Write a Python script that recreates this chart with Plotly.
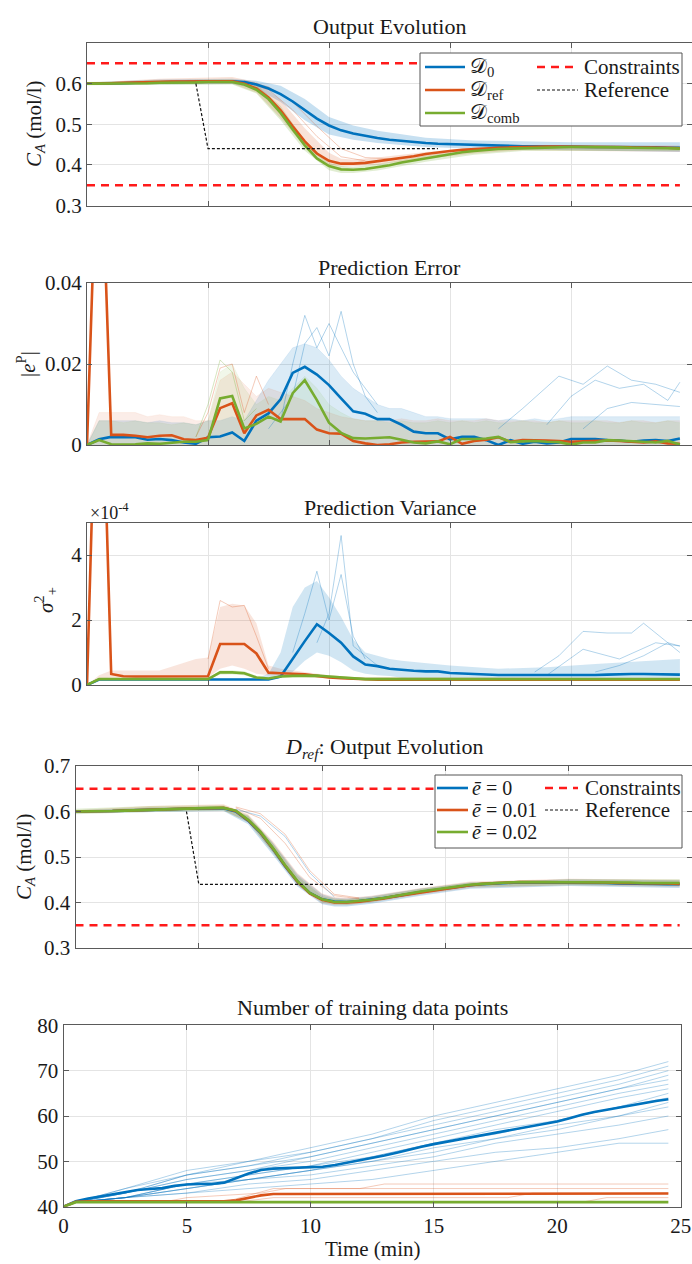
import plotly.graph_objects as go

W, H = 692, 1264
T = [0.5 * i for i in range(50)]          # sampling instants (min)
X_TICKS = [0, 5, 10, 15, 20, 25]

# ---------------- Panel 1 : Output Evolution ----------------
P1_D0 = [0.600, 0.600, 0.600, 0.601, 0.602, 0.602, 0.603, 0.604, 0.604, 0.605,
         0.605, 0.606, 0.606, 0.604, 0.598, 0.588, 0.574, 0.556, 0.535, 0.514,
         0.497, 0.485, 0.477, 0.471, 0.466, 0.462, 0.459, 0.456, 0.454, 0.452,
         0.451, 0.450, 0.449, 0.448, 0.447, 0.447, 0.446, 0.446, 0.445, 0.445,
         0.445, 0.444, 0.444, 0.444, 0.444, 0.443, 0.443, 0.443, 0.442, 0.442]
P1_DREF = [0.600, 0.600, 0.601, 0.602, 0.603, 0.603, 0.604, 0.605, 0.605, 0.606,
           0.606, 0.606, 0.606, 0.600, 0.588, 0.566, 0.534, 0.495, 0.458, 0.428,
           0.410, 0.403, 0.403, 0.405, 0.409, 0.413, 0.417, 0.421, 0.427, 0.431,
           0.434, 0.437, 0.439, 0.441, 0.442, 0.443, 0.444, 0.445, 0.445, 0.445,
           0.445, 0.445, 0.445, 0.444, 0.444, 0.443, 0.443, 0.442, 0.442, 0.441]
P1_DCOMB = [0.600, 0.600, 0.600, 0.600, 0.601, 0.601, 0.602, 0.602, 0.603, 0.603,
            0.604, 0.604, 0.604, 0.598, 0.585, 0.562, 0.528, 0.487, 0.448, 0.416,
            0.397, 0.389, 0.388, 0.390, 0.394, 0.399, 0.406, 0.411, 0.417, 0.422,
            0.427, 0.431, 0.434, 0.437, 0.439, 0.440, 0.441, 0.442, 0.443, 0.443,
            0.444, 0.444, 0.444, 0.443, 0.443, 0.442, 0.442, 0.441, 0.441, 0.440]
P1_B_T = [0, 3, 6, 7, 8, 9, 10, 11, 12, 14, 16, 20, 24.5]
P1_B_LO = [0.597, 0.598, 0.599, 0.588, 0.555, 0.510, 0.475, 0.462, 0.454, 0.444, 0.440, 0.436, 0.432]
P1_B_HI = [0.603, 0.610, 0.612, 0.607, 0.595, 0.562, 0.518, 0.497, 0.484, 0.467, 0.460, 0.456, 0.456]
P1_RG_T = [0, 3, 6, 7, 8, 9, 10, 10.5, 11, 12, 14, 16, 18, 24.5]
P1_R_LO = [0.598, 0.600, 0.600, 0.578, 0.515, 0.445, 0.400, 0.396, 0.396, 0.401, 0.415, 0.428, 0.436, 0.432]
P1_R_HI = [0.602, 0.612, 0.616, 0.604, 0.560, 0.490, 0.430, 0.415, 0.413, 0.418, 0.432, 0.442, 0.447, 0.448]
P1_G_LO = [0.596, 0.597, 0.598, 0.576, 0.510, 0.435, 0.387, 0.380, 0.380, 0.386, 0.408, 0.425, 0.434, 0.434]
P1_G_HI = [0.604, 0.608, 0.610, 0.598, 0.545, 0.460, 0.405, 0.397, 0.395, 0.402, 0.423, 0.437, 0.443, 0.446]
P1_RED_RUNS = [
    ([6.5, 7.5, 8.5, 9.5, 10.5, 11.5, 12.5], [0.607, 0.592, 0.555, 0.495, 0.440, 0.418, 0.415]),
    ([6.5, 7.5, 8.5, 9.5, 10.5, 11.5], [0.606, 0.585, 0.535, 0.470, 0.420, 0.410]),
]

CONSTR_T = [0, 24.5]
CONSTR_UP = [0.65, 0.65]
CONSTR_LOW = [0.35, 0.35]
REF_T = [4.5, 5.0, 14.5]
REF_Y = [0.60, 0.44, 0.44]

# ---------------- Panel 2 : Prediction Error ----------------
P2_D0 = [0, 0.0014, 0.0020, 0.0020, 0.0019, 0.0013, 0.0015, 0.0012, 0.0006, 0.0003,
         0.0019, 0.0021, 0.0031, 0.0010, 0.0060, 0.0078, 0.0113, 0.0178, 0.0193, 0.0174,
         0.0148, 0.0115, 0.0083, 0.0077, 0.0064, 0.0064, 0.0050, 0.0033, 0.0029, 0.0029,
         0.0014, 0.0020, 0.0020, 0.0012, 0.0000, 0.0012, 0.0003, 0.0008, 0.0004, 0.0006,
         0.0015, 0.0015, 0.0015, 0.0012, 0.0011, 0.0008, 0.0011, 0.0012, 0.0010, 0.0016]
P2_DREF = [0, 0.0900, 0.0025, 0.0025, 0.0023, 0.0019, 0.0023, 0.0024, 0.0014, 0.0012,
           0.0018, 0.0091, 0.0103, 0.0029, 0.0073, 0.0087, 0.0064, 0.0064, 0.0064, 0.0038,
           0.0029, 0.0028, 0.0010, 0.0004, 0.0000, 0.0002, 0.0006, 0.0008, 0.0008, 0.0009,
           0.0020, 0.0003, 0.0010, 0.0013, 0.0019, 0.0008, 0.0012, 0.0012, 0.0011, 0.0010,
           0.0008, 0.0009, 0.0010, 0.0011, 0.0010, 0.0008, 0.0006, 0.0009, 0.0004, 0.0003]
P2_DCOMB = [0, 0.0012, 0.0002, 0.0001, 0.0002, 0.0004, 0.0003, 0.0006, 0.0008, 0.0008,
            0.0012, 0.0115, 0.0121, 0.0041, 0.0052, 0.0070, 0.0058, 0.0128, 0.0160, 0.0111,
            0.0055, 0.0030, 0.0017, 0.0016, 0.0017, 0.0019, 0.0013, 0.0006, 0.0004, 0.0009,
            0.0002, 0.0015, 0.0015, 0.0016, 0.0020, 0.0007, 0.0009, 0.0010, 0.0008, 0.0007,
            0.0001, 0.0006, 0.0006, 0.0012, 0.0011, 0.0009, 0.0007, 0.0006, 0.0010, 0.0001]
P2_D0_HI = [0, 0.006, 0.006, 0.006, 0.006, 0.0055, 0.006, 0.0055, 0.0055, 0.005,
            0.006, 0.006, 0.007, 0.006, 0.011, 0.016, 0.020, 0.024, 0.025, 0.024,
            0.021, 0.017, 0.014, 0.012, 0.010, 0.009, 0.009, 0.008, 0.007, 0.007,
            0.0065, 0.0065, 0.0065, 0.0065, 0.006, 0.0065, 0.006, 0.0065, 0.006, 0.0065,
            0.007, 0.007, 0.007, 0.007, 0.007, 0.007, 0.007, 0.007, 0.007, 0.007]
P2_DREF_HI = [0, 0.008, 0.008, 0.008, 0.008, 0.007, 0.0075, 0.007, 0.007, 0.006,
              0.006, 0.016, 0.018, 0.015, 0.012, 0.014, 0.013, 0.012, 0.011, 0.009,
              0.008, 0.007, 0.0065, 0.006, 0.006, 0.006, 0.0065, 0.006, 0.006, 0.0065,
              0.006, 0.006, 0.006, 0.0065, 0.006, 0.006, 0.006, 0.006, 0.0055, 0.006,
              0.006, 0.006, 0.006, 0.006, 0.0055, 0.006, 0.006, 0.0055, 0.006, 0.006]
P2_DCOMB_HI = [0, 0.006, 0.006, 0.0055, 0.006, 0.0055, 0.0055, 0.005, 0.0055, 0.005,
               0.006, 0.018, 0.020, 0.014, 0.010, 0.012, 0.011, 0.014, 0.017, 0.014,
               0.010, 0.008, 0.0065, 0.006, 0.006, 0.0055, 0.006, 0.0055, 0.0055, 0.006,
               0.0055, 0.006, 0.0055, 0.006, 0.0055, 0.0055, 0.006, 0.0055, 0.0055, 0.006,
               0.0055, 0.0055, 0.006, 0.0055, 0.0055, 0.006, 0.0055, 0.0055, 0.006, 0.0055]
P2_BLUE_RUNS = [
    ([17, 18, 19.5, 20.5, 21.5, 22.5, 23.5, 24.5], [0.004, 0.009, 0.017, 0.015, 0.0195, 0.016, 0.015, 0.013]),
    ([19, 20, 21, 22, 23, 24, 24.5], [0.005, 0.012, 0.016, 0.014, 0.015, 0.011, 0.0155]),
    ([20.5, 21.5, 22.5, 23.5, 24.5], [0.004, 0.009, 0.0105, 0.010, 0.0095]),
    ([7.5, 8.5, 9, 9.5, 10, 10.5, 11, 11.5, 12], [0.004, 0.012, 0.025, 0.029, 0.022, 0.033, 0.020, 0.012, 0.008]),
    ([8, 8.5, 9, 9.5, 10, 11, 12], [0.006, 0.020, 0.032, 0.024, 0.030, 0.018, 0.010]),
]
P2_RED_RUNS = [([4.5, 5, 5.5, 6, 6.5, 7, 7.5], [0.002, 0.008, 0.019, 0.020, 0.008, 0.017, 0.010])]
P2_GREEN_RUNS = [([4.5, 5, 5.5, 6, 6.5, 7], [0.002, 0.010, 0.021, 0.018, 0.006, 0.009])]

# ---------------- Panel 3 : Prediction Variance (x 1e-4) ----------------
P3_D0 = [0, 0.17, 0.17, 0.17, 0.17, 0.17, 0.17, 0.17, 0.17, 0.17,
         0.17, 0.17, 0.17, 0.17, 0.17, 0.17, 0.26, 0.82, 1.35, 1.87,
         1.60, 1.30, 0.88, 0.63, 0.58, 0.50, 0.46, 0.44, 0.42, 0.42,
         0.37, 0.35, 0.33, 0.32, 0.31, 0.31, 0.31, 0.30, 0.29, 0.29,
         0.30, 0.30, 0.31, 0.32, 0.34, 0.34, 0.34, 0.33, 0.33, 0.32]
P3_DREF = [0, 13.0, 0.34, 0.27, 0.26, 0.26, 0.26, 0.27, 0.27, 0.27,
           0.27, 1.26, 1.27, 1.26, 0.97, 0.38, 0.36, 0.34, 0.33, 0.28,
           0.23, 0.21, 0.19, 0.17, 0.16, 0.16, 0.16, 0.16, 0.16, 0.16,
           0.16, 0.16, 0.16, 0.16, 0.16, 0.16, 0.16, 0.16, 0.16, 0.16,
           0.16, 0.16, 0.16, 0.16, 0.16, 0.16, 0.16, 0.16, 0.16, 0.16]
P3_DCOMB = [0, 0.18, 0.18, 0.18, 0.18, 0.18, 0.18, 0.18, 0.18, 0.18,
            0.18, 0.39, 0.39, 0.36, 0.23, 0.20, 0.26, 0.28, 0.29, 0.29,
            0.26, 0.23, 0.20, 0.18, 0.18, 0.18, 0.18, 0.18, 0.18, 0.18,
            0.18, 0.18, 0.18, 0.18, 0.18, 0.18, 0.18, 0.18, 0.18, 0.18,
            0.18, 0.18, 0.18, 0.18, 0.18, 0.18, 0.18, 0.18, 0.18, 0.18]
P3_R_T = [0, 0.5, 1, 3, 4.5, 5, 5.5, 6, 6.5, 7, 7.5, 8, 9, 10, 11, 24.5]
P3_R_LO = [0, 0.20, 0.22, 0.22, 0.22, 0.22, 0.50, 0.60, 0.50, 0.35, 0.30, 0.28, 0.24, 0.20, 0.16, 0.15]
P3_R_HI = [0, 0.30, 0.45, 0.45, 0.80, 0.85, 2.40, 2.50, 2.45, 1.90, 0.60, 0.50, 0.40, 0.30, 0.25, 0.22]
P3_B_T = [0, 0.5, 7, 7.5, 8, 8.5, 9, 9.5, 10, 10.5, 11, 11.5, 12, 12.5, 13, 15, 17, 19, 21, 24.5]
P3_B_LO = [0, 0.15, 0.15, 0.15, 0.22, 0.40, 0.75, 1.00, 0.90, 0.70, 0.45, 0.35, 0.30, 0.28, 0.22, 0.22, 0.22, 0.22, 0.22, 0.22]
P3_B_HI = [0, 0.20, 0.20, 0.35, 1.00, 2.40, 3.00, 3.20, 2.70, 2.10, 1.40, 1.00, 0.90, 0.80, 0.75, 0.60, 0.50, 0.55, 0.65, 0.80]
P3_G_T = [0, 0.5, 5, 5.5, 6, 6.5, 7, 7.5, 8, 9, 10, 11, 24.5]
P3_G_LO = [0, 0.16, 0.16, 0.32, 0.33, 0.30, 0.20, 0.18, 0.22, 0.25, 0.22, 0.16, 0.16]
P3_G_HI = [0, 0.20, 0.20, 0.45, 0.45, 0.42, 0.28, 0.24, 0.30, 0.33, 0.30, 0.24, 0.20]
P3_BLUE_RUNS = [
    ([9.5, 10, 10.5, 11, 11.5, 12], [1.3, 2.2, 4.6, 1.2, 0.9, 0.6]),
    ([8.5, 9, 9.5, 10, 10.5, 11, 11.5], [1.0, 2.2, 3.5, 2.0, 3.4, 1.5, 0.8]),
    ([18.5, 19.5, 20.5, 21.5, 22.5, 23, 24, 24.5], [0.4, 0.9, 1.65, 1.6, 1.6, 1.9, 1.3, 1.2]),
    ([19, 20.5, 22, 23.5, 24.5], [0.3, 1.1, 0.8, 1.3, 1.2]),
    ([21, 22, 23, 24, 24.5], [0.4, 0.6, 0.9, 1.3, 1.0]),
]
P3_RED_RUNS = [([5, 5.5, 6, 6.5, 7, 7.5], [0.8, 2.6, 2.4, 2.45, 1.5, 0.5])]

# ---------------- Panel 4 : D_ref Output Evolution ----------------
P4_E0 = [0.600, 0.600, 0.600, 0.601, 0.602, 0.603, 0.604, 0.605, 0.605, 0.606,
         0.606, 0.607, 0.607, 0.600, 0.580, 0.553, 0.518, 0.480, 0.446, 0.421,
         0.407, 0.402, 0.401, 0.403, 0.406, 0.410, 0.414, 0.419, 0.423, 0.427,
         0.431, 0.435, 0.438, 0.440, 0.442, 0.443, 0.444, 0.444, 0.444, 0.444,
         0.444, 0.443, 0.443, 0.443, 0.442, 0.442, 0.441, 0.441, 0.440, 0.440]
P4_E1 = [0.600, 0.600, 0.600, 0.601, 0.602, 0.603, 0.604, 0.605, 0.606, 0.606,
         0.607, 0.607, 0.608, 0.601, 0.581, 0.554, 0.519, 0.481, 0.446, 0.420,
         0.406, 0.400, 0.400, 0.402, 0.405, 0.409, 0.414, 0.418, 0.423, 0.427,
         0.431, 0.435, 0.438, 0.441, 0.443, 0.444, 0.445, 0.445, 0.445, 0.445,
         0.445, 0.444, 0.444, 0.444, 0.443, 0.443, 0.443, 0.442, 0.442, 0.441]
P4_E2 = [0.600, 0.600, 0.600, 0.601, 0.602, 0.603, 0.604, 0.605, 0.606, 0.607,
         0.607, 0.608, 0.608, 0.602, 0.582, 0.555, 0.520, 0.482, 0.447, 0.421,
         0.407, 0.401, 0.401, 0.403, 0.406, 0.410, 0.415, 0.419, 0.424, 0.428,
         0.432, 0.436, 0.439, 0.441, 0.443, 0.444, 0.445, 0.445, 0.445, 0.445,
         0.445, 0.445, 0.445, 0.445, 0.444, 0.444, 0.443, 0.443, 0.443, 0.443]
P4_BAND_T = [0, 3, 6, 7, 8, 9, 10, 10.5, 11, 12, 14, 16, 20, 24.5]
P4_B_LO = [0.596, 0.599, 0.601, 0.572, 0.505, 0.435, 0.396, 0.391, 0.391, 0.397, 0.415, 0.430, 0.436, 0.432]
P4_B_HI = [0.603, 0.609, 0.611, 0.590, 0.532, 0.462, 0.418, 0.410, 0.409, 0.414, 0.431, 0.444, 0.451, 0.449]
P4_R_LO = [0.598, 0.601, 0.603, 0.576, 0.510, 0.438, 0.398, 0.394, 0.394, 0.400, 0.417, 0.432, 0.438, 0.434]
P4_R_HI = [0.603, 0.612, 0.616, 0.594, 0.535, 0.465, 0.420, 0.412, 0.410, 0.415, 0.432, 0.446, 0.452, 0.450]
P4_G_LO = [0.594, 0.599, 0.602, 0.577, 0.510, 0.440, 0.400, 0.396, 0.395, 0.401, 0.419, 0.434, 0.438, 0.437]
P4_G_HI = [0.606, 0.612, 0.614, 0.592, 0.530, 0.458, 0.414, 0.408, 0.407, 0.412, 0.430, 0.444, 0.451, 0.451]
P4_RED_RUNS = [
    ([6.5, 7.5, 8.5, 9.5, 10.5, 11.5], [0.610, 0.595, 0.550, 0.470, 0.418, 0.410]),
    ([6.5, 7.5, 8.5, 9.5, 10.5, 11.5], [0.608, 0.585, 0.530, 0.455, 0.415, 0.408]),
]
P4_BLUE_RUNS = [([6.5, 7.5, 8.5, 9.5, 10.5], [0.605, 0.590, 0.545, 0.465, 0.412])]

# ---------------- Panel 5 : Number of training data points ----------------
P5_D0 = [40.0, 41.2, 41.8, 42.3, 42.8, 43.2, 43.7, 43.9, 44.1, 44.6,
         44.9, 45.0, 45.0, 45.3, 46.3, 47.3, 48.1, 48.4, 48.5, 48.6,
         48.7, 48.8, 49.2, 49.7, 50.2, 50.7, 51.3, 51.9, 52.6, 53.2,
         53.8, 54.3, 54.8, 55.3, 55.8, 56.3, 56.8, 57.4, 57.9, 58.3,
         58.8, 59.5, 60.3, 60.9, 61.4, 61.9, 62.4, 62.9, 63.3, 63.7]
P5_DREF = [40.0, 41.1, 41.2, 41.2, 41.2, 41.2, 41.2, 41.2, 41.2, 41.2,
           41.2, 41.2, 41.2, 41.2, 41.4, 41.9, 42.5, 42.8, 42.8, 42.8,
           42.8, 42.8, 42.8, 42.8, 42.8, 42.8, 42.8, 42.8, 42.8, 42.8,
           42.8, 42.8, 42.8, 42.8, 42.8, 42.8, 42.8, 42.8, 42.8, 42.8,
           42.9, 42.9, 42.9, 42.9, 42.9, 42.9, 42.9, 42.9, 42.9, 42.9]
P5_DCOMB = [40.0] + [41.0] * 49
P5_THIN_T = [0, 0.5, 2.5, 5, 7.5, 10, 12.5, 15, 17.5, 20, 22.5, 24.5]
P5_BLUE_RUNS = [
    [40, 41, 44, 48, 50, 53, 56, 60, 63, 66, 69, 72],
    [40, 41, 44, 47, 50, 52, 55, 59, 62, 65, 68, 71],
    [40, 41, 43, 47, 49, 52, 55, 58, 61, 64, 67, 70],
    [40, 41, 43, 47, 49, 51, 54, 57, 60, 63, 66, 69],
    [40, 41, 43, 46, 48, 51, 54, 57, 60, 63, 66, 68],
    [40, 41, 43, 46, 48, 50, 53, 56, 59, 62, 65, 67],
    [40, 41, 42, 45, 47, 49, 52, 55, 58, 61, 64, 66],
    [40, 41, 42, 45, 46, 48, 51, 54, 56, 59, 62, 65],
    [40, 41, 42, 45, 47, 49, 51, 54, 57, 59, 62, 64],
    [40, 41, 42, 44, 46, 48, 50, 52, 55, 57, 60, 63],
    [40, 41, 42, 44, 46, 48, 50, 53, 55, 58, 60, 62],
    [40, 41, 42, 44, 46, 47, 49, 51, 54, 56, 58, 60],
    [40, 41, 42, 43, 45, 46, 48, 50, 52, 53, 55, 57],
    [40, 41, 42, 43, 44, 45, 46, 48, 50, 52, 54, 54],
]
P5_RED_RUNS = [
    ([0, 0.5, 6.5, 8.5, 12, 13, 24.5], [40, 41, 41, 44, 44, 45, 45]),
    ([0, 0.5, 4, 5, 8, 9, 24.5], [40, 41, 41, 42, 43, 44, 44]),
    ([0, 0.5, 7, 8.5, 18, 19, 24.5], [40, 41, 41, 42, 42, 43, 43]),
    ([0, 0.5, 21, 22, 24.5], [40, 41, 41, 42, 42]),
]

# ---------------- styling ----------------
BLUE, RED, GREEN = '#0072BD', '#D95319', '#77AC30'
BLUE_F, RED_F, GREEN_F = 'rgba(0,114,189,0.22)', 'rgba(217,83,25,0.17)', 'rgba(119,172,48,0.22)'
BLUE_T, RED_T, GREEN_T = 'rgba(0,114,189,0.30)', 'rgba(217,83,25,0.30)', 'rgba(119,172,48,0.30)'
AXC = '#5a5a5a'
GRIDC = '#e4e4e4'
FONT = 'Liberation Serif, Times New Roman, Tinos, DejaVu Serif, serif'
TXT = '#1a1a1a'


def px(x):
    return x / W


def py(y):
    return 1 - y / H


fig = go.Figure()


def line(x, y, color, width, ax, dash=None):
    fig.add_trace(go.Scatter(x=x, y=y, mode='lines', xaxis='x' + ax, yaxis='y' + ax,
                             line=dict(color=color, width=width, dash=dash),
                             hoverinfo='skip', showlegend=False))


def band(t, lo, hi, color, ax):
    fig.add_trace(go.Scatter(x=t, y=lo, mode='lines', xaxis='x' + ax, yaxis='y' + ax,
                             line=dict(width=0, color=color), hoverinfo='skip', showlegend=False))
    fig.add_trace(go.Scatter(x=t, y=hi, mode='lines', xaxis='x' + ax, yaxis='y' + ax,
                             line=dict(width=0, color=color), fill='tonexty', fillcolor=color,
                             hoverinfo='skip', showlegend=False))


def zero_band(t, hi, color, ax):
    fig.add_trace(go.Scatter(x=t, y=hi, mode='lines', xaxis='x' + ax, yaxis='y' + ax,
                             line=dict(width=0.6, color=color), fill='tozeroy', fillcolor=color,
                             hoverinfo='skip', showlegend=False))


# Panel 1
band(P1_B_T, P1_B_LO, P1_B_HI, BLUE_F, '')
band(P1_RG_T, P1_R_LO, P1_R_HI, RED_F, '')
band(P1_RG_T, P1_G_LO, P1_G_HI, GREEN_F, '')
for tt, yy in P1_RED_RUNS:
    line(tt, yy, RED_T, 1, '')
line(T, P1_D0, BLUE, 2.6, '')
line(T, P1_DREF, RED, 2.6, '')
line(T, P1_DCOMB, GREEN, 2.6, '')
line(CONSTR_T, CONSTR_UP, '#FF1A1A', 2.4, '', '8px,6px')
line(CONSTR_T, CONSTR_LOW, '#FF1A1A', 2.4, '', '8px,6px')
line(REF_T, REF_Y, '#111111', 1.2, '', '3px,2px')

# Panel 2
zero_band(T, P2_D0_HI, 'rgba(0,114,189,0.14)', '2')
zero_band(T, P2_DREF_HI, 'rgba(217,83,25,0.10)', '2')
zero_band(T, P2_DCOMB_HI, 'rgba(119,172,48,0.10)', '2')
for tt, yy in P2_BLUE_RUNS:
    line(tt, yy, BLUE_T, 1, '2')
for tt, yy in P2_RED_RUNS:
    line(tt, yy, RED_T, 1, '2')
for tt, yy in P2_GREEN_RUNS:
    line(tt, yy, GREEN_T, 1, '2')
line(T, P2_D0, BLUE, 2.6, '2')
line(T, P2_DREF, RED, 2.6, '2')
line(T, P2_DCOMB, GREEN, 2.6, '2')

# Panel 3
band(P3_R_T, P3_R_LO, P3_R_HI, 'rgba(217,83,25,0.15)', '3')
band(P3_B_T, P3_B_LO, P3_B_HI, 'rgba(0,114,189,0.18)', '3')
band(P3_G_T, P3_G_LO, P3_G_HI, GREEN_F, '3')
for tt, yy in P3_BLUE_RUNS:
    line(tt, yy, BLUE_T, 1, '3')
for tt, yy in P3_RED_RUNS:
    line(tt, yy, RED_T, 1, '3')
line(T, P3_D0, BLUE, 2.6, '3')
line(T, P3_DREF, RED, 2.6, '3')
line(T, P3_DCOMB, GREEN, 2.6, '3')

# Panel 4
band(P4_BAND_T, P4_B_LO, P4_B_HI, BLUE_F, '4')
band(P4_BAND_T, P4_R_LO, P4_R_HI, RED_F, '4')
band(P4_BAND_T, P4_G_LO, P4_G_HI, GREEN_F, '4')
for tt, yy in P4_RED_RUNS:
    line(tt, yy, RED_T, 1, '4')
for tt, yy in P4_BLUE_RUNS:
    line(tt, yy, BLUE_T, 1, '4')
line(T, P4_E0, BLUE, 2.6, '4')
line(T, P4_E1, RED, 2.6, '4')
line(T, P4_E2, GREEN, 2.6, '4')
line(CONSTR_T, CONSTR_UP, '#FF1A1A', 2.4, '4', '8px,6px')
line(CONSTR_T, CONSTR_LOW, '#FF1A1A', 2.4, '4', '8px,6px')
line(REF_T, REF_Y, '#111111', 1.2, '4', '3px,2px')

# Panel 5
for yy in P5_BLUE_RUNS:
    line(P5_THIN_T, yy, BLUE_T, 1, '5')
for tt, yy in P5_RED_RUNS:
    line(tt, yy, RED_T, 1, '5')
line(T, P5_D0, BLUE, 2.6, '5')
line(T, P5_DREF, RED, 2.6, '5')
line(T, P5_DCOMB, GREEN, 2.6, '5')

# ---------------- axes ----------------
PANELS = {
    '':  dict(x=(87, 692), y=(43, 205.5), yr=[0.3, 0.7], yt=[0.3, 0.4, 0.5, 0.6], ytt=['0.3', '0.4', '0.5', '0.6']),
    '2': dict(x=(87, 692), y=(283, 445), yr=[0, 0.04], yt=[0, 0.02, 0.04], ytt=['0', '0.02', '0.04']),
    '3': dict(x=(87, 692), y=(522.5, 685), yr=[0, 5], yt=[0, 2, 4], ytt=['0', '2', '4']),
    '4': dict(x=(75.5, 692), y=(766, 948), yr=[0.3, 0.7], yt=[0.3, 0.4, 0.5, 0.6, 0.7], ytt=['0.3', '0.4', '0.5', '0.6', '0.7']),
    '5': dict(x=(63.5, 680.7), y=(1025.3, 1206.7), yr=[40, 80], yt=[40, 50, 60, 70, 80], ytt=['40', '50', '60', '70', '80']),
}
layout_axes = {}
for k, p in PANELS.items():
    common = dict(ticks='inside', ticklen=5, tickwidth=1, tickcolor=AXC, showline=True,
                  linecolor=AXC, linewidth=1, mirror='ticks', showgrid=True, gridcolor=GRIDC,
                  gridwidth=1, zeroline=False, tickfont=dict(family=FONT, size=21, color=TXT),
                  fixedrange=True)
    layout_axes['xaxis' + k] = dict(common, domain=[px(p['x'][0]), px(p['x'][1])],
                                    anchor='y' + k, range=[0, 25], tickvals=X_TICKS,
                                    ticktext=[str(v) for v in X_TICKS], showticklabels=(k == '5'))
    layout_axes['yaxis' + k] = dict(common, domain=[py(p['y'][1]), py(p['y'][0])],
                                    anchor='x' + k, range=p['yr'], tickvals=p['yt'], ticktext=p['ytt'])

annotations = []
shapes = []


def text(x, y, s, size=20, anchor='center', angle=0):
    annotations.append(dict(xref='paper', yref='paper', x=px(x), y=py(y), text=s, showarrow=False,
                            xanchor=anchor, yanchor='middle', textangle=angle,
                            font=dict(family=FONT, size=size, color=TXT)))


# titles
text(389.5, 26, 'Output Evolution', 22)
text(389.5, 267, 'Prediction Error', 22)
text(389.5, 507, 'Prediction Variance', 22)
text(383.5, 748, '<i>D</i><sub><i>ref</i></sub>: Output Evolution', 22)
text(372, 1007, 'Number of training data points', 22)
# axis labels
text(35, 124, '<i>C</i><sub><i>A</i></sub> (mol/l)', 21, angle=-90)
text(26, 364, '|<i>e</i><sup>P</sup>|', 21, angle=-90)
text(45, 600, '<i>σ</i><sup>2</sup><sub>+</sub>', 21, angle=-90)
text(25, 857, '<i>C</i><sub><i>A</i></sub> (mol/l)', 21, angle=-90)
text(372, 1249, 'Time (min)', 21)
text(88, 512, '×10<sup>-4</sup>', 18, anchor='left')


def box(x0, y0, x1, y1):
    shapes.append(dict(type='rect', xref='paper', yref='paper', x0=px(x0), x1=px(x1),
                       y0=py(y1), y1=py(y0), fillcolor='white',
                       line=dict(color='#555555', width=1), layer='above'))


def sample(x0, x1, y, color, width, dash='solid'):
    shapes.append(dict(type='line', xref='paper', yref='paper', x0=px(x0), x1=px(x1),
                       y0=py(y), y1=py(y), line=dict(color=color, width=width, dash=dash),
                       layer='above'))


# legend panel 1
box(420, 53, 682, 126)
for yv, col, lab in [(67, BLUE, '𝒟<sub>0</sub>'), (90, RED, '𝒟<sub>ref</sub>'), (113, GREEN, '𝒟<sub>comb</sub>')]:
    sample(425, 465, yv, col, 2.6)
    text(468, yv, lab, 21, anchor='left')
sample(537, 576, 67, '#FF1A1A', 2.4, '8px,6px')
text(582, 67, 'Constraints', 21, anchor='left')
sample(537, 578, 90, '#111111', 1.2, '3px,2px')
text(582, 90, 'Reference', 21, anchor='left')

# legend panel 4
box(435, 775, 682, 848)
for yv, col, lab in [(788, BLUE, '<i>ē</i> = 0'), (810, RED, '<i>ē</i> = 0.01'), (832, GREEN, '<i>ē</i> = 0.02')]:
    sample(437, 468, yv, col, 2.6)
    text(470, yv, lab, 20, anchor='left')
sample(545, 578, 788, '#FF1A1A', 2.4, '8px,6px')
text(583, 788, 'Constraints', 21, anchor='left')
sample(545, 578, 810, '#111111', 1.2, '3px,2px')
text(583, 810, 'Reference', 21, anchor='left')

fig.update_layout(width=W, height=H, autosize=False, margin=dict(l=0, r=0, t=0, b=0),
                  paper_bgcolor='white', plot_bgcolor='white', template='none',
                  font=dict(family=FONT, size=20, color=TXT), showlegend=False,
                  annotations=annotations, shapes=shapes, **layout_axes)

fig.write_html('out.html')
